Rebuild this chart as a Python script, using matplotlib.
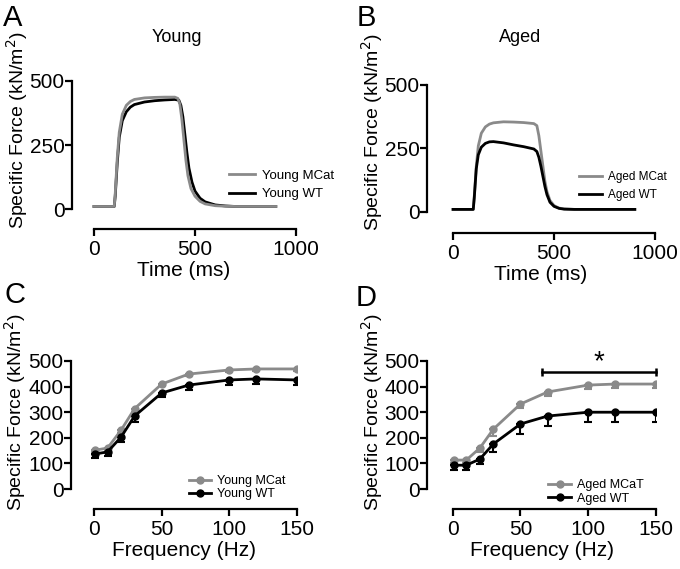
import numpy as np
import matplotlib
matplotlib.use("Agg")
import matplotlib.pyplot as plt
from matplotlib.lines import Line2D

plt.rcParams["font.family"] = ["Liberation Sans", "DejaVu Sans"]

GREY = "#8a8a8a"
BLACK = "#000000"

# --- Panel A: young force traces ---
young_mcat_t = [0, 100, 105, 115, 125, 140, 160, 180, 200, 250, 300, 350, 400, 415, 425, 435,
                445, 455, 465, 480, 500, 525, 550, 600, 650, 700, 800, 900]
young_mcat_f = [10, 10, 60, 200, 300, 370, 405, 420, 428, 434, 436, 437, 437, 432, 410, 350,
                270, 190, 130, 80, 50, 30, 20, 13, 11, 10, 10, 10]
young_wt_t = [0, 100, 105, 115, 125, 140, 160, 180, 200, 250, 300, 350, 400, 420, 430, 440,
              450, 460, 470, 485, 500, 525, 550, 600, 650, 700, 800, 900]
young_wt_f = [10, 10, 50, 180, 280, 345, 380, 398, 408, 418, 423, 426, 428, 425, 405, 360,
              290, 220, 160, 105, 70, 42, 28, 16, 12, 10, 10, 10]

# --- Panel B: aged force traces ---
aged_t = [0, 100, 105, 115, 125, 140, 160, 180, 200, 250, 300, 350, 400, 415, 425, 435,
          445, 455, 465, 480, 500, 525, 550, 600, 700, 800, 900]
aged_mcat_f = [10, 10, 60, 180, 260, 310, 335, 346, 351, 355, 354, 352, 348, 340, 300, 240,
               180, 120, 80, 45, 25, 15, 12, 10, 10, 10, 10]
aged_wt_f = [10, 10, 55, 170, 225, 255, 270, 276, 277, 272, 264, 257, 248, 238, 215, 180,
             140, 100, 68, 38, 22, 14, 11, 10, 10, 10, 10]

# --- Panels C/D: force-frequency ---
freq = [1, 10, 20, 30, 50, 70, 100, 120, 150]
young_mcat_ff = [152, 160, 230, 314, 410, 449, 465, 469, 469]
young_mcat_err = [8, 8, 12, 12, 8, 8, 8, 8, 8]
young_wt_ff = [137, 145, 203, 285, 375, 406, 426, 430, 426]
young_wt_err = [15, 15, 20, 22, 15, 18, 20, 20, 20]
aged_mcat_ff = [113, 113, 160, 234, 332, 379, 406, 410, 410]
aged_mcat_err = [10, 10, 15, 27, 16, 16, 14, 14, 14]
aged_wt_ff = [93, 93, 117, 176, 254, 285, 300, 300, 300]
aged_wt_err = [20, 20, 20, 30, 38, 38, 40, 40, 40]

W, H = 680, 569
fig = plt.figure(figsize=(W / 100, H / 100), dpi=100)


def px_axes(l, r, t, b):
    return fig.add_axes([l / W, 1 - b / H, (r - l) / W, (b - t) / H])


def style(ax, xlim, ylim, xb, yb, xt, yt):
    ax.set_xlim(*xlim)
    ax.set_ylim(*ylim)
    for s in ("top", "right"):
        ax.spines[s].set_visible(False)
    for s in ("left", "bottom"):
        ax.spines[s].set_linewidth(1.6)
    ax.spines["bottom"].set_bounds(*xb)
    ax.spines["left"].set_bounds(*yb)
    ax.set_xticks(xt)
    ax.set_yticks(yt)
    ax.tick_params(width=1.6, length=5, labelsize=15)
    ax.tick_params(axis="y", pad=0.3)
    ax.tick_params(axis="x", pad=3)
    ax.patch.set_alpha(0)


ylab = "Specific Force (kN/m$^2$)"

# A
axA = px_axes(72, 296, 81, 229)
axA.plot(young_mcat_t, young_mcat_f, color=GREY, lw=2, label="Young MCat")
axA.plot(young_wt_t, young_wt_f, color=BLACK, lw=2, label="Young WT", zorder=1)
style(axA, (-109, 1000), (-78, 500), (0, 1000), (0, 500), [0, 500, 1000], [0, 250, 500])
axA.set_xlabel("Time (ms)", fontsize=15, labelpad=1)
axA.legend(loc="upper left", bbox_to_anchor=(0.70, 0.40), frameon=False, fontsize=9.5,
           handlelength=2.0, handletextpad=0.5, labelspacing=0.45, borderpad=0, borderaxespad=0)

# B
axB = px_axes(427, 655, 85, 233)
axB.plot(aged_t, aged_mcat_f, color=GREY, lw=2, label="Aged MCat")
axB.plot(aged_t, aged_wt_f, color=BLACK, lw=2, label="Aged WT")
style(axB, (-129, 1000), (-83, 500), (0, 1000), (0, 500), [0, 500, 1000], [0, 250, 500])
axB.set_xlabel("Time (ms)", fontsize=15, labelpad=1)
axB.legend(loc="upper left", bbox_to_anchor=(0.665, 0.42), frameon=False, fontsize=8.5,
           handlelength=2.0, handletextpad=0.5, labelspacing=0.55, borderpad=0, borderaxespad=0)


def ff_handles(labels):
    return [Line2D([], [], color=c, lw=2, marker="o", ms=5, label=l)
            for c, l in zip([GREY, BLACK], labels)]


# C
axC = px_axes(71, 297, 361, 509)
zeros = np.zeros(len(freq))
axC.errorbar(freq, young_mcat_ff, yerr=[young_mcat_err, zeros], color=GREY, lw=2, marker="o",
             ms=5, capsize=3, elinewidth=1.5, capthick=1.5)
axC.errorbar(freq, young_wt_ff, yerr=[young_wt_err, zeros], color=BLACK, lw=2, marker="o",
             ms=5, capsize=3, elinewidth=1.5, capthick=1.5)
style(axC, (-17, 150), (-78, 500), (0, 150), (0, 500), [0, 50, 100, 150],
      [0, 100, 200, 300, 400, 500])
axC.set_xlabel("Frequency (Hz)", fontsize=15, labelpad=1)
axC.legend(handles=ff_handles(["Young MCat", "Young WT"]), loc="upper left",
           bbox_to_anchor=(0.52, 0.23), frameon=False, fontsize=9,
           handlelength=1.8, handletextpad=0.5, labelspacing=0.1, borderpad=0, borderaxespad=0)

# D
axD = px_axes(427, 656, 361, 509)
axD.errorbar(freq, aged_mcat_ff, yerr=[aged_mcat_err, zeros], color=GREY, lw=2, marker="o",
             ms=5, capsize=3, elinewidth=1.5, capthick=1.5)
axD.errorbar(freq, aged_wt_ff, yerr=[aged_wt_err, zeros], color=BLACK, lw=2, marker="o",
             ms=5, capsize=3, elinewidth=1.5, capthick=1.5)
style(axD, (-19, 150), (-78, 500), (0, 150), (0, 500), [0, 50, 100, 150],
      [0, 100, 200, 300, 400, 500])
axD.set_xlabel("Frequency (Hz)", fontsize=15, labelpad=1)
axD.legend(handles=ff_handles(["Aged MCaT", "Aged WT"]), loc="upper left",
           bbox_to_anchor=(0.53, 0.20), frameon=False, fontsize=9,
           handlelength=1.8, handletextpad=0.5, labelspacing=0.1, borderpad=0, borderaxespad=0)

# significance bar
axD.plot([66, 150], [457, 457], color=BLACK, lw=1.8, clip_on=False)
axD.vlines([66, 150], 442, 472, color=BLACK, lw=1.8, clip_on=False)
axD.text(108, 495, "*", ha="center", va="center", fontsize=20, clip_on=False)

# y labels, titles, panel letters
for (x, y) in [(17, 130), (372, 132), (15, 412), (372, 412)]:
    fig.text(x / W, 1 - y / H, ylab, rotation=90, ha="center", va="center", fontsize=14)

fig.text(177 / W, 1 - 42 / H, "Young", ha="center", va="baseline", fontsize=13)
fig.text(520 / W, 1 - 42 / H, "Aged", ha="center", va="baseline", fontsize=13)

for (x, y, s) in [(3, 26, "A"), (357, 26, "B"), (4, 303, "C"), (356, 306, "D")]:
    fig.text(x / W, 1 - y / H, s, ha="left", va="baseline", fontsize=21)

fig.savefig("out.png", dpi=100)
